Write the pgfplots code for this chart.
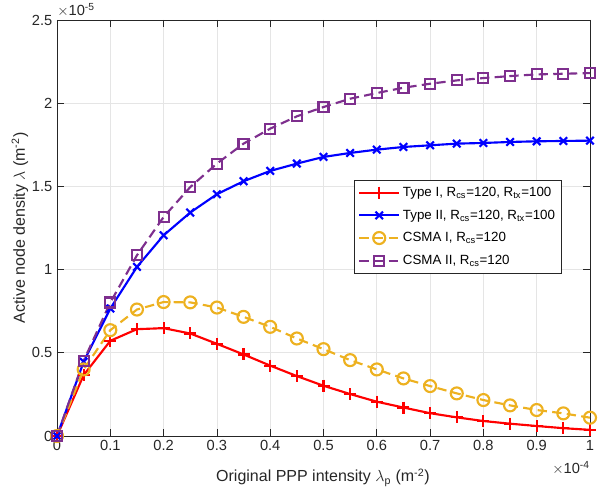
\documentclass[border=0pt]{standalone}
\usepackage{pgfplots}
\pgfplotsset{compat=1.18}
\usepackage{fontspec}
\setmainfont{Liberation Sans}
\definecolor{mred}{rgb}{1,0,0}
\definecolor{mblue}{rgb}{0,0,1}
\definecolor{morange}{rgb}{0.929,0.694,0.125}
\definecolor{mpurple}{rgb}{0.494,0.184,0.556}
\definecolor{axgray}{rgb}{0.15,0.15,0.15}
\begin{document}
\begin{tikzpicture}
\begin{axis}[
  at={(0,0)}, anchor=south west,
  scale only axis, width=399.75pt, height=312pt,
  xmin=0, xmax=1, ymin=0, ymax=2.5,
  xtick={0,0.1,...,1.0}, ytick={0,0.5,1,1.5,2,2.5},
  xticklabels={0,0.1,0.2,0.3,0.4,0.5,0.6,0.7,0.8,0.9,1},
  yticklabels={0,0.5,1,1.5,2,2.5},
  font=\fontsize{11}{13}\selectfont,
  tick label style={font=\fontsize{11}{13}\selectfont, text=axgray},
  /pgf/number format/assume math mode=true,
  axis line style={axgray, line width=0.5pt},
  tick style={axgray, line width=0.5pt},
  tick align=inside, major tick length=5pt,
  xtick pos=both, ytick pos=both,
  grid=major, major grid style={color=black!10, line width=0.5pt},
  every axis y label/.style={at={(axis description cs:-0.0694,0.5)}, rotate=90, anchor=center, text=axgray, font=\fontsize{12}{14}\selectfont},
  every axis x label/.style={at={(axis description cs:0.499,-0.1)}, anchor=center, text=axgray, font=\fontsize{12}{14}\selectfont},
  ylabel={Active node density $\lambda$ (m\textsuperscript{-2})},
  xlabel={Original PPP intensity $\lambda_{\mathrm{p}}$ (m\textsuperscript{-2})},
  legend style={at={(axis description cs:0.557,0.615)}, anchor=north west,
    draw=axgray, fill=white, font=\fontsize{10}{12}\selectfont,
    inner xsep=3pt, inner ysep=3pt, row sep=4.5pt},
  legend cell align=left,
  legend image post style={line width=1.6pt},
  legend image code/.code={\draw[mark repeat=2,mark phase=2] plot coordinates {(0pt,0pt) (15pt,0pt) (30pt,0pt)};},
  clip=false,
]
\addplot[mred, line width=1.6pt, mark=+, mark size=4.5pt, mark options={solid}] coordinates {
(0,0) (0.05,0.366) (0.1,0.572) (0.15,0.642) (0.2,0.648) (0.25,0.616) (0.3,0.554) (0.35,0.49) (0.4,0.423) (0.45,0.36) (0.5,0.302) (0.55,0.252) (0.6,0.206) (0.65,0.171) (0.7,0.137) (0.75,0.112) (0.8,0.09) (0.85,0.074) (0.9,0.06) (0.95,0.047) (1.0,0.037)};
\addlegendentry{Type I, R\textsubscript{cs}=120, R\textsubscript{tx}=100}
\addplot[mblue, line width=1.6pt, mark=x, mark size=4pt, mark options={solid}] coordinates {
(0,0) (0.05,0.446) (0.1,0.766) (0.15,1.016) (0.2,1.206) (0.25,1.343) (0.3,1.453) (0.35,1.531) (0.4,1.593) (0.45,1.637) (0.5,1.677) (0.55,1.701) (0.6,1.721) (0.65,1.737) (0.7,1.747) (0.75,1.757) (0.8,1.761) (0.85,1.767) (0.9,1.771) (0.95,1.773) (1.0,1.775)};
\addlegendentry{Type II, R\textsubscript{cs}=120, R\textsubscript{tx}=100}
\addplot[morange, line width=1.6pt, dash pattern=on 7pt off 4pt, mark=o, mark size=4.5pt, mark options={solid}] coordinates {
(0,0) (0.05,0.40) (0.1,0.636) (0.15,0.76) (0.2,0.805) (0.25,0.803) (0.3,0.772) (0.35,0.716) (0.4,0.656) (0.45,0.586) (0.5,0.522) (0.55,0.456) (0.6,0.40) (0.65,0.346) (0.7,0.30) (0.75,0.256) (0.8,0.216) (0.85,0.184) (0.9,0.156) (0.95,0.136) (1.0,0.11)};
\addlegendentry{CSMA I, R\textsubscript{cs}=120}
\addplot[mpurple, line width=1.6pt, dash pattern=on 7pt off 4pt, mark=square, mark size=3.75pt, mark options={solid}] coordinates {
(0,0) (0.05,0.452) (0.1,0.802) (0.15,1.086) (0.2,1.316) (0.25,1.496) (0.3,1.637) (0.35,1.757) (0.4,1.847) (0.45,1.921) (0.5,1.977) (0.55,2.027) (0.6,2.061) (0.65,2.093) (0.7,2.117) (0.75,2.137) (0.8,2.151) (0.85,2.163) (0.9,2.173) (0.95,2.177) (1.0,2.181)};
\addlegendentry{CSMA II, R\textsubscript{cs}=120}
\node[anchor=south west, inner sep=0pt, text=axgray, font=\fontsize{11}{13}\selectfont] at (axis description cs:0,1) [yshift=2pt] {$\times$10\textsuperscript{-5}};
\node[anchor=north east, inner sep=0pt, text=axgray, font=\fontsize{11}{13}\selectfont] at (axis description cs:1,0) [yshift=-19pt] {$\times$10\textsuperscript{-4}};
\end{axis}
\pgfresetboundingbox
\path (-42.75pt,-45pt) rectangle (407.25pt,327pt);
\end{tikzpicture}
\end{document}
